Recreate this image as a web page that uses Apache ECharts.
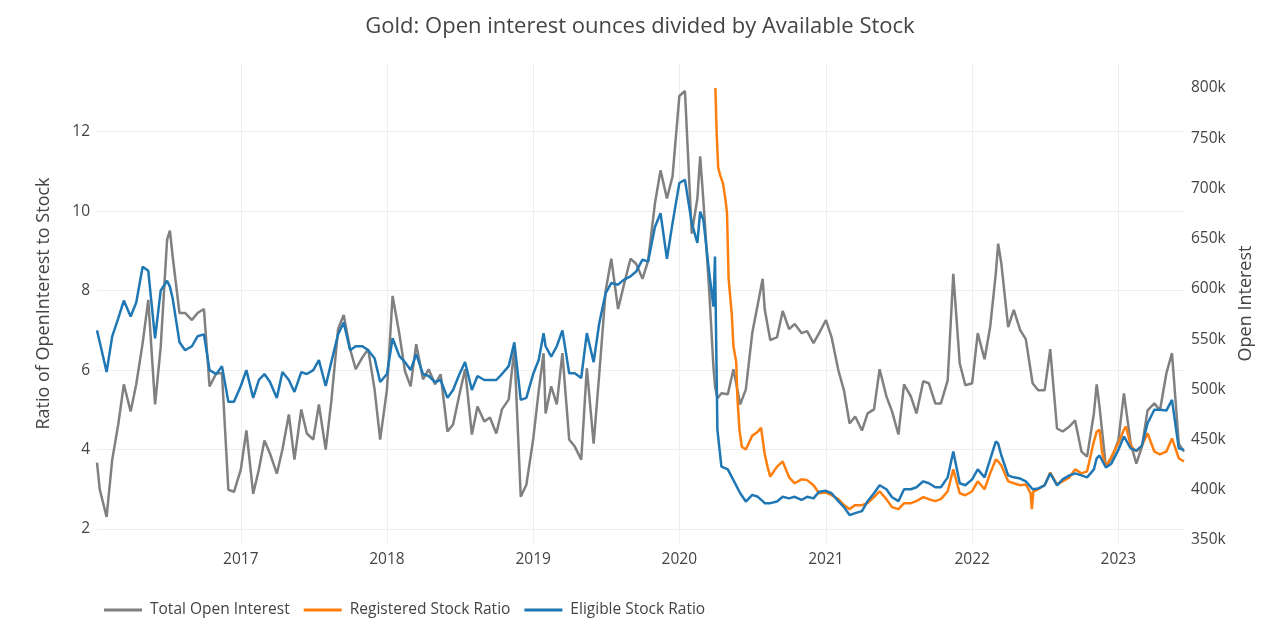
<!DOCTYPE html>
<html>
<head>
<meta charset="utf-8">
<script src="https://cdn.jsdelivr.net/npm/echarts@6/dist/echarts.min.js"></script>
<style>
html,body{margin:0;padding:0;background:#fff;}
#chart{width:1280px;height:641px;}
</style>
</head>
<body>
<div id="chart"></div>
<script>
// Shared dates for Total Open Interest and Eligible Stock Ratio
const ratioDates = [
 '2016-01-08','2016-01-15','2016-02-01','2016-02-15','2016-03-01','2016-03-15','2016-04-01','2016-04-15','2016-05-01','2016-05-15','2016-06-01','2016-06-15','2016-07-01','2016-07-08','2016-07-15','2016-08-01','2016-08-15','2016-09-01','2016-09-15','2016-10-01','2016-10-15','2016-11-01','2016-11-15','2016-12-01','2016-12-15',
 '2017-01-01','2017-01-15','2017-02-01','2017-02-15','2017-03-01','2017-03-15','2017-04-01','2017-04-15','2017-05-01','2017-05-15','2017-06-01','2017-06-15','2017-07-01','2017-07-15','2017-08-01','2017-08-15','2017-09-01','2017-09-15','2017-10-01','2017-10-15','2017-11-01','2017-11-15','2017-12-01','2017-12-15',
 '2018-01-01','2018-01-15','2018-02-01','2018-02-15','2018-03-01','2018-03-15','2018-04-01','2018-04-15','2018-05-01','2018-05-15','2018-06-01','2018-06-15','2018-07-01','2018-07-15','2018-08-01','2018-08-15','2018-09-01','2018-09-15','2018-10-01','2018-10-15','2018-11-01','2018-11-15','2018-12-01','2018-12-15',
 '2019-01-01','2019-01-15','2019-01-27','2019-02-01','2019-02-15','2019-03-01','2019-03-15','2019-04-01','2019-04-15','2019-05-01','2019-05-15','2019-06-01','2019-06-15','2019-07-01','2019-07-15','2019-08-01','2019-08-15','2019-09-01','2019-09-15','2019-10-01','2019-10-15','2019-11-01','2019-11-15','2019-12-01','2019-12-15',
 '2020-01-01','2020-01-15','2020-02-01','2020-02-15','2020-02-22','2020-03-01','2020-03-15','2020-03-26','2020-03-30','2020-04-05','2020-04-15','2020-05-01','2020-05-15','2020-06-01','2020-06-15','2020-07-01','2020-07-15','2020-07-27','2020-08-01','2020-08-15','2020-09-01','2020-09-15','2020-10-01','2020-10-15','2020-11-01','2020-11-15','2020-12-01','2020-12-15',
 '2021-01-01','2021-01-15','2021-02-01','2021-02-15','2021-03-01','2021-03-15','2021-04-01','2021-04-15','2021-05-01','2021-05-15','2021-06-01','2021-06-15','2021-07-01','2021-07-15','2021-08-01','2021-08-15','2021-09-01','2021-09-15','2021-10-01','2021-10-15','2021-11-01','2021-11-15','2021-12-01','2021-12-15',
 '2022-01-01','2022-01-15','2022-02-01','2022-02-15','2022-03-01','2022-03-07','2022-03-15','2022-04-01','2022-04-15','2022-05-01','2022-05-15','2022-06-01','2022-06-15','2022-07-01','2022-07-15','2022-08-01','2022-08-15','2022-09-01','2022-09-15','2022-10-01','2022-10-15','2022-11-01','2022-11-08','2022-11-15','2022-12-01','2022-12-15',
 '2023-01-01','2023-01-15','2023-02-01','2023-02-15','2023-03-01','2023-03-15','2023-04-01','2023-04-15','2023-05-01','2023-05-15','2023-06-01','2023-06-14'
];

// Total Open Interest (thousands)
const openInterestK = [
 427,400,373,430,465,505,478,505,546,589,485,542,649,658,632,576,576,569,576,580,503,516,516,400,398,
 420,459,396,420,449,436,416,440,475,430,480,456,450,485,440,488,560,574,540,520,532,540,500,450,
 500,593,555,518,503,545,510,520,505,515,458,465,495,520,455,483,468,472,456,480,490,540,393,405,
 450,499,536,476,503,485,536,450,443,430,521,446,515,598,630,580,603,630,625,610,628,685,718,690,712,
 792,797,655,690,732,688,602,523,503,491,496,495,520,485,500,556,585,610,580,549,552,578,560,565,556,558,546,556,
 569,552,519,499,466,473,459,476,480,520,493,478,455,505,493,476,508,506,486,486,509,615,526,504,
 506,556,530,562,615,645,625,562,579,559,550,506,499,499,540,461,458,463,469,438,433,476,505,483,423,431,
 449,496,446,426,443,479,486,479,516,536,446,438
];

// Eligible Stock Ratio
const eligibleRatio = [
 7.0,6.7,5.95,6.85,7.3,7.75,7.35,7.7,8.6,8.5,6.8,8.0,8.25,8.1,7.8,6.7,6.5,6.6,6.85,6.9,6.0,5.9,6.1,5.2,5.2,
 5.6,6.0,5.3,5.75,5.9,5.7,5.3,5.95,5.75,5.45,5.95,5.9,6.0,6.25,5.6,6.2,6.9,7.2,6.5,6.6,6.6,6.5,6.3,5.7,
 5.9,6.8,6.35,6.2,6.0,6.4,5.9,5.85,5.7,5.75,5.3,5.5,5.9,6.2,5.5,5.85,5.75,5.75,5.75,5.9,6.1,6.7,5.25,5.3,
 5.9,6.26,6.93,6.6,6.34,6.6,7.0,5.92,5.92,5.8,6.93,6.2,7.18,7.94,8.19,8.15,8.27,8.36,8.48,8.78,8.73,9.6,9.95,8.8,9.7,
 10.71,10.79,9.7,9.2,9.99,9.78,8.5,7.6,8.86,4.5,3.57,3.5,3.23,2.9,2.69,2.86,2.81,2.7,2.65,2.65,2.69,2.81,2.77,2.81,2.73,2.81,2.77,2.94,
 2.96,2.9,2.7,2.55,2.35,2.4,2.45,2.7,2.9,3.1,3.0,2.8,2.7,3.0,3.0,3.05,3.2,3.15,3.05,3.05,3.3,3.95,3.15,3.1,
 3.25,3.5,3.3,3.75,4.2,4.15,3.85,3.35,3.3,3.27,3.2,3.0,3.02,3.1,3.4,3.1,3.25,3.35,3.4,3.35,3.3,3.5,3.78,3.85,3.55,3.65,
 3.99,4.33,4.03,3.97,4.1,4.66,5.0,5.0,4.98,5.25,4.03,3.99
];

// Registered Stock Ratio (starts spring 2020)
const registeredDates = [
 '2020-03-31','2020-04-03','2020-04-07','2020-04-12','2020-04-19','2020-04-25','2020-04-29','2020-05-03','2020-05-07','2020-05-11','2020-05-15','2020-05-22','2020-05-25','2020-05-30','2020-06-05','2020-06-15','2020-07-01','2020-07-15','2020-07-23','2020-08-01','2020-08-08','2020-08-15','2020-09-01','2020-09-15','2020-10-01','2020-10-15','2020-11-01','2020-11-15','2020-12-01','2020-12-15',
 '2021-01-01','2021-01-15','2021-02-01','2021-02-15','2021-03-01','2021-03-15','2021-04-01','2021-04-15','2021-05-01','2021-05-15','2021-06-01','2021-06-15','2021-07-01','2021-07-15','2021-08-01','2021-08-15','2021-09-01','2021-09-15','2021-10-01','2021-10-15','2021-11-01','2021-11-15','2021-12-01','2021-12-15',
 '2022-01-01','2022-01-15','2022-02-01','2022-02-15','2022-03-01','2022-03-07','2022-03-15','2022-04-01','2022-04-15','2022-05-01','2022-05-15','2022-05-27','2022-05-30','2022-06-03','2022-06-15','2022-07-01','2022-07-15','2022-08-01','2022-08-15','2022-09-01','2022-09-15','2022-10-01','2022-10-15','2022-11-01','2022-11-08','2022-11-15','2022-11-22','2022-12-01','2022-12-15',
 '2023-01-01','2023-01-15','2023-01-20','2023-02-01','2023-02-15','2023-03-01','2023-03-15','2023-04-01','2023-04-15','2023-05-01','2023-05-15','2023-06-01','2023-06-14'
];
const registeredRatio = [
 13.1,12.0,11.1,10.9,10.7,10.3,9.95,8.3,7.85,7.4,6.6,6.2,5.3,4.5,4.07,4.0,4.35,4.45,4.55,3.9,3.57,3.32,3.57,3.7,3.3,3.15,3.25,3.23,3.1,2.9,
 2.92,2.85,2.75,2.6,2.5,2.6,2.6,2.65,2.8,2.95,2.75,2.55,2.5,2.65,2.65,2.7,2.8,2.75,2.7,2.75,2.95,3.5,2.9,2.85,
 2.95,3.2,3.0,3.4,3.75,3.7,3.6,3.2,3.15,3.1,3.12,2.9,2.5,2.95,3.0,3.1,3.42,3.12,3.2,3.3,3.5,3.4,3.45,4.2,4.45,4.5,3.9,3.57,3.82,
 4.16,4.5,4.58,4.1,3.95,4.1,4.41,3.95,3.88,3.95,4.28,3.78,3.7
];

// Axis ticks
const yearTicks = ['2017-01-01','2018-01-01','2019-01-01','2020-01-01','2021-01-01','2022-01-01','2023-01-01'];
const ratioTicks = [2,4,6,8,10,12];
const openInterestTicksK = [350,400,450,500,550,600,650,700,750,800];

const FONT = '"Open Sans", "Noto Sans", sans-serif';
const TXT = '#444';
function tparse(s) {
  const p = s.split('-').map(Number);
  return Date.UTC(p[0], p[1] - 1, p[2]);
}

const chart = echarts.init(document.getElementById('chart'), null, {renderer: 'canvas'});
chart.setOption({
  animation: false,
  backgroundColor: '#fff',
  textStyle: {fontFamily: FONT},
  title: {
    text: 'Gold: Open interest ounces divided by Available Stock',
    left: 'center', top: 11,
    textStyle: {fontFamily: FONT, fontSize: 22, fontWeight: 'normal', color: TXT}
  },
  legend: {
    left: 99, top: 597,
    icon: 'rect',
    itemWidth: 38, itemHeight: 3, itemGap: 14,
    textStyle: {fontFamily: FONT, fontSize: 15.5, color: TXT, padding: [0, 0, 0, 3]},
    data: ['Total Open Interest', 'Registered Stock Ratio', 'Eligible Stock Ratio']
  },
  grid: {left: 97, right: 96, top: 64, bottom: 98, containLabel: false},
  xAxis: {
    type: 'value',
    min: tparse('2016-01-08'),
    max: tparse('2023-06-14'),
    axisLine: {show: false},
    axisTick: {show: false, customValues: yearTicks.map(tparse)},
    axisLabel: {
      customValues: yearTicks.map(tparse),
      formatter: v => String(new Date(v).getUTCFullYear()),
      fontFamily: FONT, fontSize: 15.5, color: TXT, margin: 9
    },
    splitLine: {show: true, lineStyle: {color: '#eeeeee', width: 1}}
  },
  yAxis: [
    {
      type: 'value',
      min: 1.647, max: 13.705,
      name: 'Ratio of OpenInterest to Stock',
      nameLocation: 'middle', nameRotate: 90, nameGap: 44,
      nameTextStyle: {fontFamily: FONT, fontSize: 18, color: TXT},
      axisLine: {show: false},
      axisTick: {show: false, customValues: ratioTicks},
      axisLabel: {customValues: ratioTicks, fontFamily: FONT, fontSize: 15.5, color: TXT, margin: 7},
      splitLine: {show: true, lineStyle: {color: '#eeeeee', width: 1}}
    },
    {
      type: 'value',
      position: 'right',
      min: 347.0, max: 823.9,
      name: 'Open Interest',
      nameLocation: 'middle', nameRotate: 90, nameGap: 46,
      nameTextStyle: {fontFamily: FONT, fontSize: 18, color: TXT},
      axisLine: {show: false},
      axisTick: {show: false, customValues: openInterestTicksK},
      axisLabel: {customValues: openInterestTicksK, formatter: v => v + 'k', fontFamily: FONT, fontSize: 15.5, color: TXT, margin: 7},
      splitLine: {show: false}
    }
  ],
  series: [
    {
      name: 'Total Open Interest', type: 'line', yAxisIndex: 1,
      symbol: 'none', showSymbol: false,
      lineStyle: {color: '#808080', width: 2.5}, itemStyle: {color: '#808080'},
      data: ratioDates.map((d, i) => [tparse(d), openInterestK[i]])
    },
    {
      name: 'Registered Stock Ratio', type: 'line', yAxisIndex: 0,
      symbol: 'none', showSymbol: false,
      lineStyle: {color: '#ff7f0e', width: 2.5}, itemStyle: {color: '#ff7f0e'},
      data: registeredDates.map((d, i) => [tparse(d), registeredRatio[i]])
    },
    {
      name: 'Eligible Stock Ratio', type: 'line', yAxisIndex: 0,
      symbol: 'none', showSymbol: false,
      lineStyle: {color: '#1f77b4', width: 2.5}, itemStyle: {color: '#1f77b4'},
      data: ratioDates.map((d, i) => [tparse(d), eligibleRatio[i]])
    }
  ]
});
</script>
</body>
</html>
